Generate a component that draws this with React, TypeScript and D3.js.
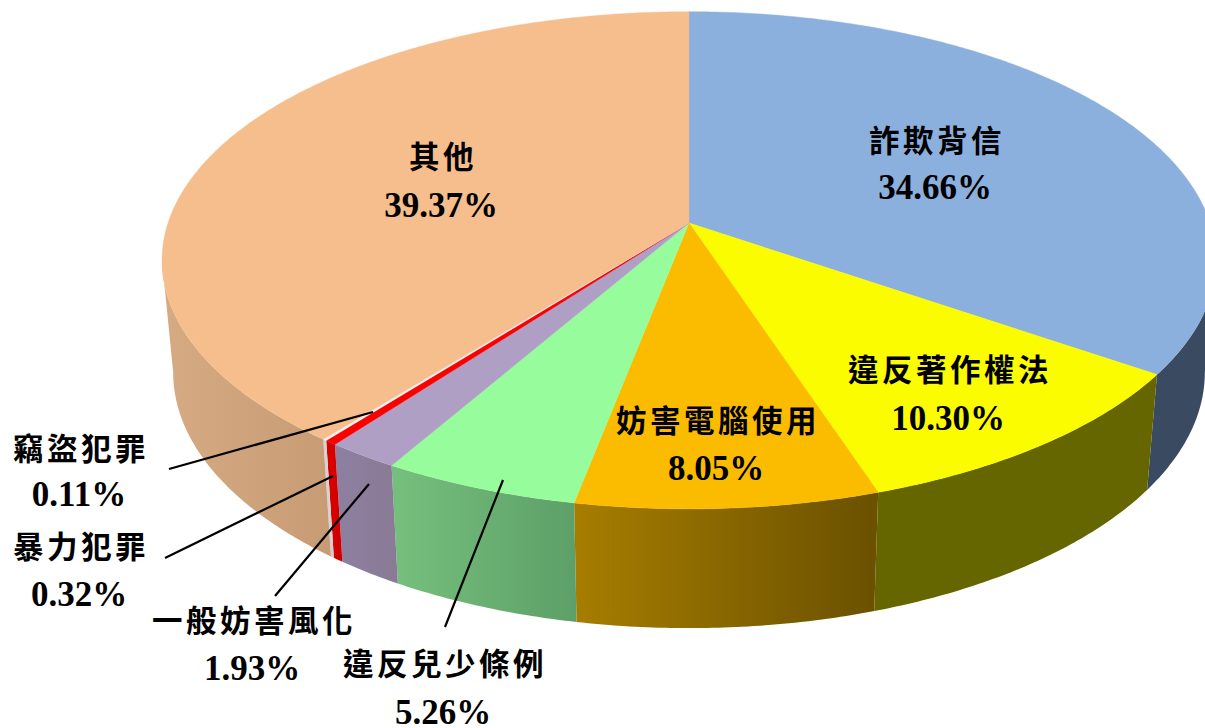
import React from "react";
import * as d3 from "d3";

// --- data ---
const categories = ["詐欺背信", "違反著作權法", "妨害電腦使用", "違反兒少條例", "一般妨害風化", "暴力犯罪", "竊盜犯罪", "其他"];
const shares = [34.66, 10.3, 8.05, 5.26, 1.93, 0.32, 0.11, 39.37];
const topColors = ["#8CB0DE", "#FCFC00", "#FBBC00", "#97FC9B", "#AF9FC4", "#FC0000", "#F2F2F2", "#F6BD8D"];
const sideLeft = ["#3A4A61", "#666600", "#A67D00", "#75BF7C", "#8D7F9F", "#D60000", "#D4D4D4", "#D5A981"];
const sideRight = ["#3A4A61", "#666600", "#6B5100", "#5D9F68", "#897A95", "#CC0000", "#C8C8C8", "#C79B74"];

// --- layout ---
const W = 1205, H = 728;
const CX = 689;
const top = { a: 521, b: 243, y0: 223 };
const bottom = { a: 510, b: 250, y0: 334 };
const K = 0.15;

const labelPos = [
  [935, 139, 187], [948, 368, 418], [716, 419, 468], [443, 662, 712],
  [252, 619, 668], [79, 545, 594], [79, 447, 494], [441, 155, 205],
];
const leaders: number[][] = [
  [503, 480, 445, 627], [369, 484, 275, 596], [333, 476, 165, 558], [373, 412, 169, 469],
];

function project(r: { a: number; b: number; y0: number }, t: number): [number, number] {
  const u = Math.sin(t), v = -Math.cos(t);
  const d = 1 - K * v;
  return [CX + (r.a * u) / d, r.y0 + (r.b * v) / d];
}

function rim(r: typeof top, a0: number, a1: number) {
  const n = Math.max(2, Math.ceil(Math.abs(a1 - a0) / 0.01));
  return d3.range(n + 1).map((i) => project(r, a0 + ((a1 - a0) * i) / n));
}

const line = d3.line<[number, number]>();
const arcs = d3.pie<number>().sort(null).value((d) => d)(shares);
// the side wall runs between the two silhouette tangents of the rims
const visStart = Math.acos(-K);
const visEnd = 2 * Math.PI - visStart;

export default function App() {
  return (
    <svg width={W} height={H} style={{ position: "fixed", left: 0, top: 0, background: "#fff" }}>
      <defs>
        {arcs.map((s, i) => {
          const xa = project(bottom, s.startAngle)[0];
          const xb = project(bottom, Math.min(s.endAngle, visEnd))[0];
          return (
            <linearGradient key={i} id={`side${i}`} gradientUnits="userSpaceOnUse" x1={Math.min(xa, xb)} x2={Math.max(xa, xb)} y1={0} y2={0}>
              <stop offset="0" stopColor={sideLeft[i]} />
              <stop offset="1" stopColor={sideRight[i]} />
            </linearGradient>
          );
        })}
      </defs>
      {arcs.map((s, i) => {
        const a0 = Math.max(s.startAngle, visStart);
        const a1 = Math.min(s.endAngle, visEnd);
        const pts = [...rim(top, a0, a1), ...rim(bottom, a1, a0)];
        return <path key={i} d={line(pts as [number, number][]) + "Z"} fill={`url(#side${i})`} />;
      })}
      {arcs.map((s, i) => {
        const pts = [[CX, top.y0] as [number, number], ...rim(top, s.startAngle, s.endAngle)];
        return <path key={i} d={line(pts) + "Z"} fill={topColors[i]} stroke={topColors[i]} strokeWidth={0.4} />;
      })}
      {leaders.map((l, i) => (
        <line key={i} x1={l[0]} y1={l[1]} x2={l[2]} y2={l[3]} stroke="#000" strokeWidth={2.2} />
      ))}
      {categories.map((c, i) => (
        <g key={c} textAnchor="middle" fill="#000" fontWeight={700}>
          <text x={labelPos[i][0] + 2} y={labelPos[i][1]} dominantBaseline="central" fontFamily="'Noto Sans CJK TC'" fontSize={30.5} letterSpacing={3.5}>{c}</text>
          <text x={labelPos[i][0]} y={labelPos[i][2]} dominantBaseline="central" fontFamily="'Liberation Serif'" fontSize={35}>{shares[i].toFixed(2)}%</text>
        </g>
      ))}
    </svg>
  );
}
